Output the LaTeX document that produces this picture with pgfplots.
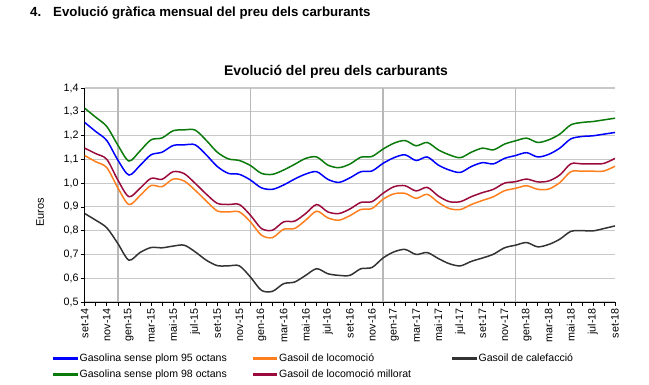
\documentclass[border=0pt]{standalone}
\usepackage{pgfplots}
\pgfplotsset{compat=1.18}
\usepackage{pgfplotstable}
\usepackage{fontspec}
\setmainfont{Liberation Sans}
\definecolor{cblue}{HTML}{0000FF}
\definecolor{cgreen}{HTML}{0A7A0A}
\definecolor{corange}{HTML}{FF7F1E}
\definecolor{cmaroon}{HTML}{9A0A3C}
\definecolor{cblack}{HTML}{333333}
\definecolor{cgrid}{HTML}{C8C8C8}
\definecolor{cvgrid}{HTML}{B8B8B8}
\pgfplotstableread{
i g95 g98 loc mil cal
0 1.255 1.315 1.116 1.147 0.872
1 1.217 1.277 1.090 1.124 0.844
2 1.179 1.238 1.065 1.100 0.812
3 1.097 1.160 0.980 1.013 0.746
4 1.034 1.093 0.910 0.943 0.676
5 1.074 1.135 0.947 0.978 0.708
6 1.119 1.182 0.990 1.020 0.729
7 1.130 1.190 0.985 1.016 0.728
8 1.158 1.220 1.017 1.048 0.735
9 1.161 1.224 1.009 1.040 0.739
10 1.161 1.223 0.970 0.999 0.711
11 1.119 1.180 0.925 0.954 0.676
12 1.070 1.130 0.883 0.915 0.653
13 1.041 1.102 0.879 0.910 0.652
14 1.037 1.095 0.879 0.910 0.652
15 1.013 1.074 0.837 0.865 0.605
16 0.980 1.041 0.781 0.809 0.549
17 0.974 1.037 0.771 0.802 0.545
18 0.992 1.055 0.806 0.837 0.577
19 1.017 1.079 0.809 0.840 0.584
20 1.038 1.104 0.844 0.872 0.612
21 1.048 1.110 0.882 0.910 0.640
22 1.016 1.076 0.854 0.879 0.619
23 1.003 1.065 0.844 0.872 0.612
24 1.022 1.080 0.863 0.891 0.612
25 1.048 1.109 0.889 0.919 0.640
26 1.051 1.112 0.893 0.922 0.645
27 1.083 1.143 0.932 0.957 0.685
28 1.107 1.168 0.955 0.985 0.711
29 1.119 1.179 0.957 0.989 0.721
30 1.095 1.157 0.936 0.967 0.700
31 1.110 1.171 0.953 0.982 0.708
32 1.076 1.140 0.919 0.946 0.683
33 1.055 1.119 0.893 0.922 0.661
34 1.045 1.107 0.889 0.922 0.652
35 1.070 1.130 0.910 0.943 0.671
36 1.086 1.147 0.927 0.960 0.685
37 1.081 1.140 0.943 0.974 0.701
38 1.104 1.164 0.968 1.000 0.728
39 1.116 1.178 0.978 1.006 0.739
40 1.128 1.189 0.989 1.017 0.750
41 1.110 1.171 0.974 1.005 0.732
42 1.121 1.182 0.975 1.009 0.742
43 1.147 1.206 1.002 1.034 0.764
44 1.186 1.245 1.048 1.081 0.797
45 1.196 1.255 1.050 1.081 0.800
46 1.199 1.259 1.050 1.081 0.799
47 1.206 1.266 1.051 1.083 0.809
48 1.213 1.273 1.071 1.104 0.820
}\prices
\newcommand{\lent}[1]{\makebox[171bp][l]{#1}}
\begin{document}
\begin{tikzpicture}
\useasboundingbox (0,0) rectangle (649bp,385bp);
\node[anchor=base west, font=\bfseries\fontsize{13.3}{15}\selectfont, inner sep=0] at (30bp,368bp) {4.\hspace{12bp}Evolució gràfica mensual del preu dels carburants};
\node[anchor=center, font=\bfseries\fontsize{14}{16}\selectfont, inner sep=0] at (336bp,313bp) {Evolució del preu dels carburants};
\begin{axis}[
  at={(84.7bp,83bp)}, anchor=south west,
  scale only axis, width=530.3bp, height=214bp,
  xmin=0, xmax=48, ymin=0.5, ymax=1.4,
  axis x line*=bottom, axis y line*=left,
  axis line style={black, line width=0.8bp},
  tick align=outside, tick pos=left,
  major tick length=4bp,
  tick style={black, line width=0.6bp},
  xtick={0,...,48},
  xticklabels={set-14,,nov-14,,gen-15,,mar-15,,mai-15,,jul-15,,set-15,,nov-15,,gen-16,,mar-16,,mai-16,,jul-16,,set-16,,nov-16,,gen-17,,mar-17,,mai-17,,jul-17,,set-17,,nov-17,,gen-18,,mar-18,,mai-18,,jul-18,,set-18},
  x tick label style={rotate=90, anchor=east, font=\fontsize{10.8}{12}\selectfont, inner sep=2bp},
  ytick={0.5,0.6,...,1.41},
  y tick label style={font=\fontsize{10.8}{12}\selectfont, inner sep=2bp},
  /pgf/number format/.cd, use comma, fixed, fixed zerofill, precision=1, assume math mode=true,
  /pgfplots/.cd,
  ymajorgrids, major grid style={cgrid, line width=1.2bp},
  extra x ticks={3,15,27,39}, extra x tick labels={},
  extra x tick style={grid=major, major grid style={cvgrid, line width=1.5bp}, major tick length=0pt},
  ylabel={Euros},
  ylabel style={at={(axis description cs:-0.084,0.42)}, anchor=center, rotate=0, font=\fontsize{11}{12}\selectfont},
  legend columns=3,
  legend style={at={(axis description cs:-0.060,-0.231)}, anchor=north west, draw=none, fill=none,
    font=\fontsize{10.6}{12}\selectfont, inner sep=0pt, row sep=3bp},
  legend cell align=left,
  legend image code/.code={\fill[#1] (0bp,-0.95bp) rectangle (23bp,0.95bp);},
  every axis plot/.append style={smooth, line width=1.5bp, no markers},
]
\addplot[cblue] table[x=i, y=g95] {\prices};
\addlegendentry{\lent{Gasolina sense plom 95 octans}}
\addplot[corange] table[x=i, y=loc] {\prices};
\addlegendentry{\lent{Gasoil de locomoció}}
\addplot[cblack] table[x=i, y=cal] {\prices};
\addlegendentry{\lent{Gasoil de calefacció}}
\addplot[cgreen] table[x=i, y=g98] {\prices};
\addlegendentry{\lent{Gasolina sense plom 98 octans}}
\addplot[cmaroon] table[x=i, y=mil] {\prices};
\addlegendentry{\lent{Gasoil de locomoció millorat}}
\end{axis}
\end{tikzpicture}
\end{document}
